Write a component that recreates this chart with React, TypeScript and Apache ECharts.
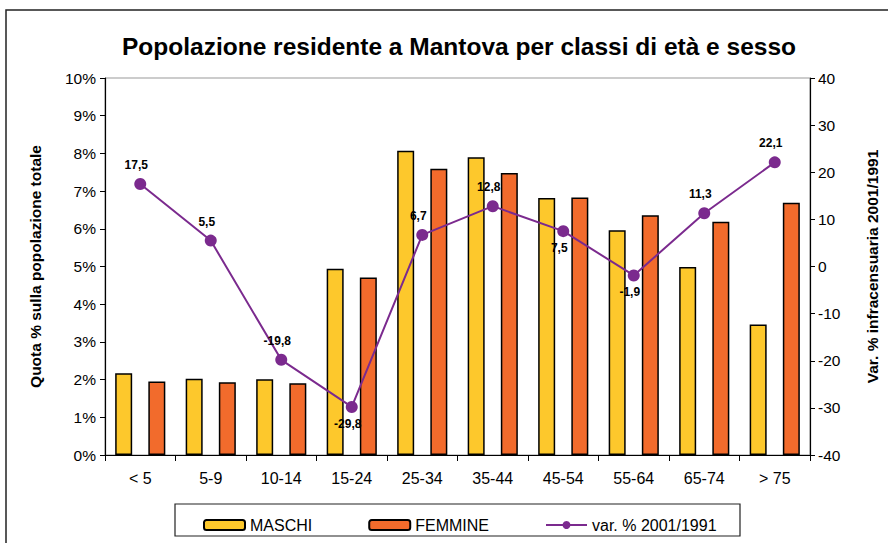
import React, { useEffect, useRef } from "react";
import * as echarts from "echarts";

const categories = ["< 5", "5-9", "10-14", "15-24", "25-34", "35-44", "45-54", "55-64", "65-74", "> 75"];
const maschi = [2.17, 2.02, 2.01, 4.94, 8.07, 7.9, 6.82, 5.96, 4.99, 3.46];
const femmine = [1.95, 1.93, 1.9, 4.71, 7.59, 7.48, 6.83, 6.36, 6.19, 6.69];
const variazione = [17.5, 5.5, -19.8, -29.8, 6.7, 12.8, 7.5, -1.9, 11.3, 22.1];
const labelBelow = [false, false, false, true, false, false, true, true, false, false];
const leftTicks = { min: 0, max: 10, interval: 1 };
const rightTicks = { min: -40, max: 40, interval: 10 };

const FONT = "'Liberation Sans', Arial, Helvetica, sans-serif";

export default function App() {
  const ref = useRef<HTMLDivElement>(null);
  useEffect(() => {
    if (!ref.current) return;
    const chart = echarts.init(ref.current, undefined, { renderer: "svg" });
    const option = {
      animation: false,
      backgroundColor: "#fff",
      textStyle: { fontFamily: FONT },
      title: {
        text: "Popolazione residente a Mantova per classi di età e sesso",
        left: 454,
        textAlign: "center",
        top: 29,
        textStyle: { fontFamily: FONT, fontSize: 24.5, fontWeight: "bold", color: "#000" },
      },
      graphic: [
        {
          type: "rect",
          shape: { x: 6, y: 10, width: 1000, height: 700 },
          style: { fill: "none", stroke: "#222", lineWidth: 1.5 },
          silent: true,
          z: 100,
        },
        {
          type: "rect",
          shape: { x: 175, y: 504, width: 565, height: 32 },
          style: { fill: "none", stroke: "#222", lineWidth: 1.2 },
          silent: true,
          z: 100,
        },
      ],
      legend: {
        left: 198,
        top: 512,
        itemWidth: 41,
        itemHeight: 10,
        itemGap: 56,
        textStyle: { fontFamily: FONT, fontSize: 16, color: "#000" },
        data: [
          { name: "MASCHI" },
          { name: "FEMMINE" },
          { name: "var. % 2001/1991" },
        ],
      },
      grid: {
        left: 105,
        right: 75,
        top: 78,
        bottom: 88,
        show: true,
        borderColor: "#999",
        borderWidth: 1,
      },
      xAxis: {
        type: "category",
        data: categories,
        boundaryGap: true,
        axisLine: { lineStyle: { color: "#000", width: 1.2 } },
        axisTick: { show: true, length: 6, lineStyle: { color: "#000" } },
        axisLabel: { fontFamily: FONT, fontSize: 16, color: "#000", margin: 15 },
        splitLine: { show: false },
      },
      yAxis: [
        {
          type: "value",
          min: leftTicks.min,
          max: leftTicks.max,
          interval: leftTicks.interval,
          name: "Quota % sulla popolazione totale",
          nameLocation: "middle",
          nameGap: 62,
          nameTextStyle: { fontFamily: FONT, fontSize: 15.5, fontWeight: "bold", color: "#000" },
          axisLine: { show: true, lineStyle: { color: "#000", width: 1.2 } },
          axisTick: { show: true, length: 5, lineStyle: { color: "#000" } },
          axisLabel: { fontFamily: FONT, fontSize: 15.5, color: "#000", margin: 9, formatter: "{value}%" },
          splitLine: { show: false },
        },
        {
          type: "value",
          position: "right",
          min: rightTicks.min,
          max: rightTicks.max,
          interval: rightTicks.interval,
          name: "Var. % infracensuaria 2001/1991",
          nameLocation: "middle",
          nameGap: 54,
          nameRotate: 90,
          nameTextStyle: { fontFamily: FONT, fontSize: 15.5, fontWeight: "bold", color: "#000" },
          axisLine: { show: true, lineStyle: { color: "#000", width: 1.2 } },
          axisTick: { show: true, length: 5, lineStyle: { color: "#000" } },
          axisLabel: { fontFamily: FONT, fontSize: 15.5, color: "#000", margin: 8 },
          splitLine: { show: false },
        },
      ],
      series: [
        {
          name: "MASCHI",
          type: "bar",
          yAxisIndex: 0,
          data: maschi,
          barWidth: 17,
          barGap: "95%",
          itemStyle: { color: "#FDC82C", borderColor: "#000", borderWidth: 1.5 },
        },
        {
          name: "FEMMINE",
          type: "bar",
          yAxisIndex: 0,
          data: femmine,
          barWidth: 17,
          barGap: "95%",
          itemStyle: { color: "#F26B2C", borderColor: "#000", borderWidth: 1.5 },
        },
        {
          name: "var. % 2001/1991",
          type: "line",
          yAxisIndex: 1,
          z: 5,
          data: variazione.map((v, i) => ({
            value: v,
            label: {
              position: labelBelow[i] ? "bottom" : "top",
              distance: labelBelow[i] ? 5 : 7,
              offset: [-4, 0],
            },
          })),
          symbol: "circle",
          symbolSize: 12,
          lineStyle: { color: "#7B2A8E", width: 2 },
          itemStyle: { color: "#7B2A8E" },
          label: {
            show: true,
            fontFamily: FONT,
            fontSize: 12,
            fontWeight: "bold",
            color: "#000",
            formatter: (p: any) => String(p.value).replace(".", ","),
          },
        },
      ],
    };
    chart.setOption(option as any);
    return () => chart.dispose();
  }, []);
  return (
    <div
      ref={ref}
      style={{ position: "fixed", left: 0, top: 0, width: 888, height: 543 }}
    />
  );
}
